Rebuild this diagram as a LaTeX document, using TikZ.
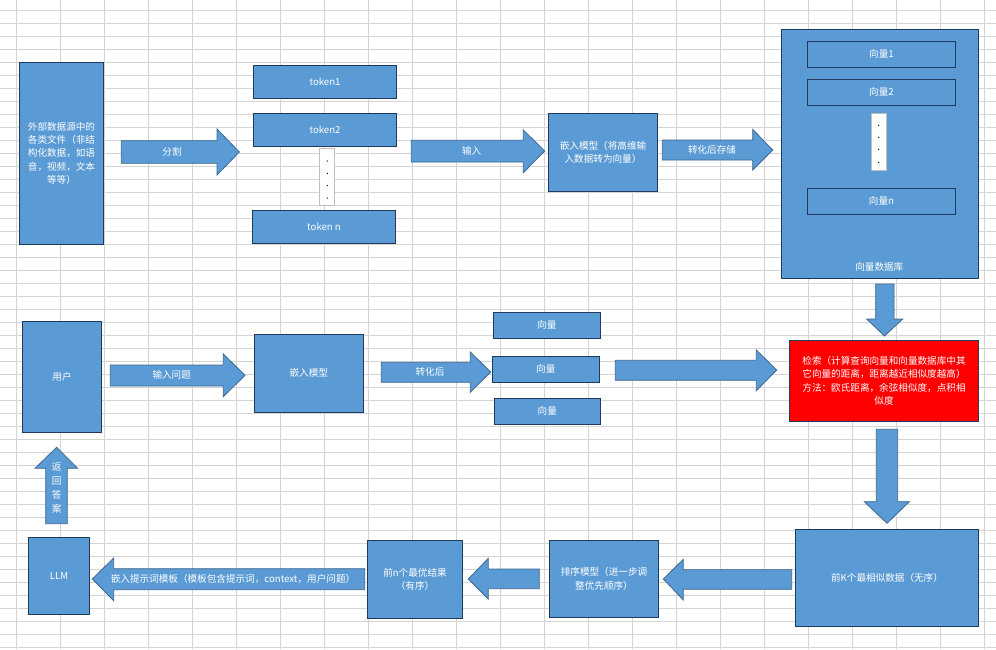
\documentclass[tikz,border=0pt]{standalone}
\usepackage{fontspec}
\newfontfamily\cjk{Noto Sans CJK SC}
\definecolor{boxfill}{HTML}{5B9BD5}
\definecolor{boxedge}{HTML}{1F3A5C}
\definecolor{arrowedge}{HTML}{3E6690}
\definecolor{gridgray}{HTML}{D4D4D4}
\definecolor{alertred}{HTML}{FF0000}
\definecolor{dotedge}{HTML}{BFBFBF}
\begin{document}
\begin{tikzpicture}[x=1pt,y=-1pt,
  lbl/.style={text=white, font=\cjk\fontsize{9.6}{13.2}\selectfont, align=center, inner sep=0pt},
  box/.style 2 args={lbl, draw=boxedge, fill=boxfill, line width=1pt,
    minimum width=#1pt, minimum height=#2pt},
  dotbox/.style 2 args={draw=dotedge, fill=white, line width=0.8pt, inner sep=0pt,
    minimum width=#1pt, minimum height=#2pt},
  barrow/.style={draw=arrowedge, fill=boxfill, line width=0.8pt, line join=miter},
  gridline/.style={draw=gridgray, line width=0.9pt}]

% sheet background and cell grid
\fill[white] (0,0) rectangle (996,649);
\useasboundingbox (0,0) rectangle (996,649);
\foreach \i in {0,...,22} \draw[gridline] ({16.7+44*\i},0) -- ({16.7+44*\i},649);
\foreach \j in {0,...,49} \draw[gridline] (0,{10.3+13*\j}) -- (996,{10.3+13*\j});

% ---------- top row: indexing ----------
\node[box={84.4}{182}] (src) at (61.5,153.3)
  {外部数据源中的\\各类文件（非结\\构化数据，如语\\音，视频，文本\\等等）};

\draw[barrow] (121.3,140.7) -- (217,140.7) -- (217,129) -- (239.3,152)
  -- (217,175) -- (217,163.3) -- (121.3,163.3) -- cycle;
\node[lbl] (splitlbl) at (172,152) {分割};

\node[box={143.4}{33}] (tok1) at (325,81.8) {token1};
\node[box={143.4}{33}] (tok2) at (325,129.8) {token2};
\node[dotbox={15}{56.7}] (tokdots) at (326.8,176.7) {};
\foreach \yy in {161,173.3,185.5,198} \fill (327.3,\yy) circle (0.7);
\node[box={143.4}{33}] (tokn) at (324,226.8) {token n};

\draw[barrow] (411.3,140.3) -- (523.3,140.3) -- (523.3,130) -- (544.7,151)
  -- (523.3,172.7) -- (523.3,162) -- (411.3,162) -- cycle;
\node[lbl] (inlbl) at (471.7,150.7) {输入};

\node[box={109.4}{78.4}] (embed1) at (603,152.5)
  {嵌入模型（将高维输\\入数据转为向量）};

\draw[barrow] (662.3,140) -- (752.7,140) -- (752.7,129.3) -- (772.7,150)
  -- (752.7,170) -- (752.7,160) -- (662.3,160) -- cycle;
\node[lbl] (storelbl) at (712,150) {转化后存储};

\node[box={197.4}{249}] (db) at (880,153.8) {};
\node[lbl] (dblbl) at (879.3,267.3) {向量数据库};
\node[box={148.4}{26}] (v1) at (881.5,54.3) {向量1};
\node[box={148.4}{26}] (v2) at (881.5,92.3) {向量2};
\node[dotbox={15.4}{57.4}] (vdots) at (879,142) {};
\foreach \yy in {125.3,137.3,149.3,162.3} \fill (878.7,\yy) circle (0.7);
\node[box={148.4}{26}] (vn) at (881.5,201.3) {向量n};

% database down to retrieval
\draw[barrow] (875.7,284) -- (894,284) -- (894,319) -- (902.7,319) -- (884.5,336)
  -- (866.7,319) -- (875.7,319) -- cycle;

% ---------- middle row: query ----------
\node[box={79.4}{111}] (user) at (62,376.8) {用户};

\draw[barrow] (110.3,365) -- (223.3,365) -- (223.3,354) -- (245,375.3)
  -- (223.3,396.7) -- (223.3,386) -- (110.3,386) -- cycle;
\node[lbl] (asklbl) at (171.7,374.7) {输入问题};

\node[box={109}{78}] (embed2) at (308.8,373.3) {嵌入模型};

\draw[barrow] (381.3,362.3) -- (470.3,362.3) -- (470.3,352) -- (490.7,372)
  -- (470.3,392.3) -- (470.3,382.3) -- (381.3,382.3) -- cycle;
\node[lbl] (convlbl) at (430,371.7) {转化后};

\node[box={107}{26}] (q1) at (546.8,325.3) {向量};
\node[box={107}{26}] (q2) at (545.8,369.3) {向量};
\node[box={106}{26}] (q3) at (547.3,411.3) {向量};

\draw[barrow] (615.3,360.3) -- (756.3,360.3) -- (756.3,350) -- (776.7,370)
  -- (756.3,390.7) -- (756.3,380.3) -- (615.3,380.3) -- cycle;

\node[box={189.4}{81}, fill=alertred] (search) at (884,380.8)
  {检索（计算查询向量和向量数据库中其\\它向量的距离，距离越近相似度越高）\\方法：欧氏距离，余弦相似度，点积相\\似度};

% retrieval down to top-K
\draw[barrow] (876.3,429.3) -- (897.7,429.3) -- (897.7,501.7) -- (909.3,501.7)
  -- (887,523.3) -- (864.3,501.7) -- (876.3,501.7) -- cycle;

% ---------- bottom row: generation ----------
\node[box={183.4}{97}] (topk) at (887,577.8) {前K个最相似数据（无序）};

\draw[barrow] (791.7,569.7) -- (683.3,569.7) -- (683.3,559.3) -- (663.3,579)
  -- (683.3,600) -- (683.3,589.3) -- (791.7,589.3) -- cycle;

\node[box={109.4}{77}] (rerank) at (604,578.8) {排序模型（进一步调\\整优先顺序）};

\draw[barrow] (539.3,569) -- (488.3,569) -- (488.3,558.3) -- (468.3,579)
  -- (488.3,599) -- (488.3,588.7) -- (539.3,588.7) -- cycle;

\node[box={95.4}{78}] (topn) at (415,579.3) {前n个最优结果\\（有序）};

\draw[barrow] (364.7,568.7) -- (113.7,568.7) -- (113.7,558) -- (92.3,579)
  -- (113.7,600.7) -- (113.7,589.7) -- (364.7,589.7) -- cycle;
\node[lbl] (promptlbl) at (233,579) {嵌入提示词模板（模板包含提示词，context，用户问题）};

\node[box={61.4}{77}] (llm) at (59,575.8) {LLM};

\draw[barrow] (45.7,523.7) -- (45.7,468.3) -- (35,468.3) -- (56.7,447.3)
  -- (77.7,468.3) -- (67.3,468.3) -- (67.3,523.7) -- cycle;
\node[lbl, font=\cjk\fontsize{9.6}{13.9}\selectfont] (answerlbl) at (56.7,488.2) {返\\回\\答\\案};

\end{tikzpicture}
\end{document}
